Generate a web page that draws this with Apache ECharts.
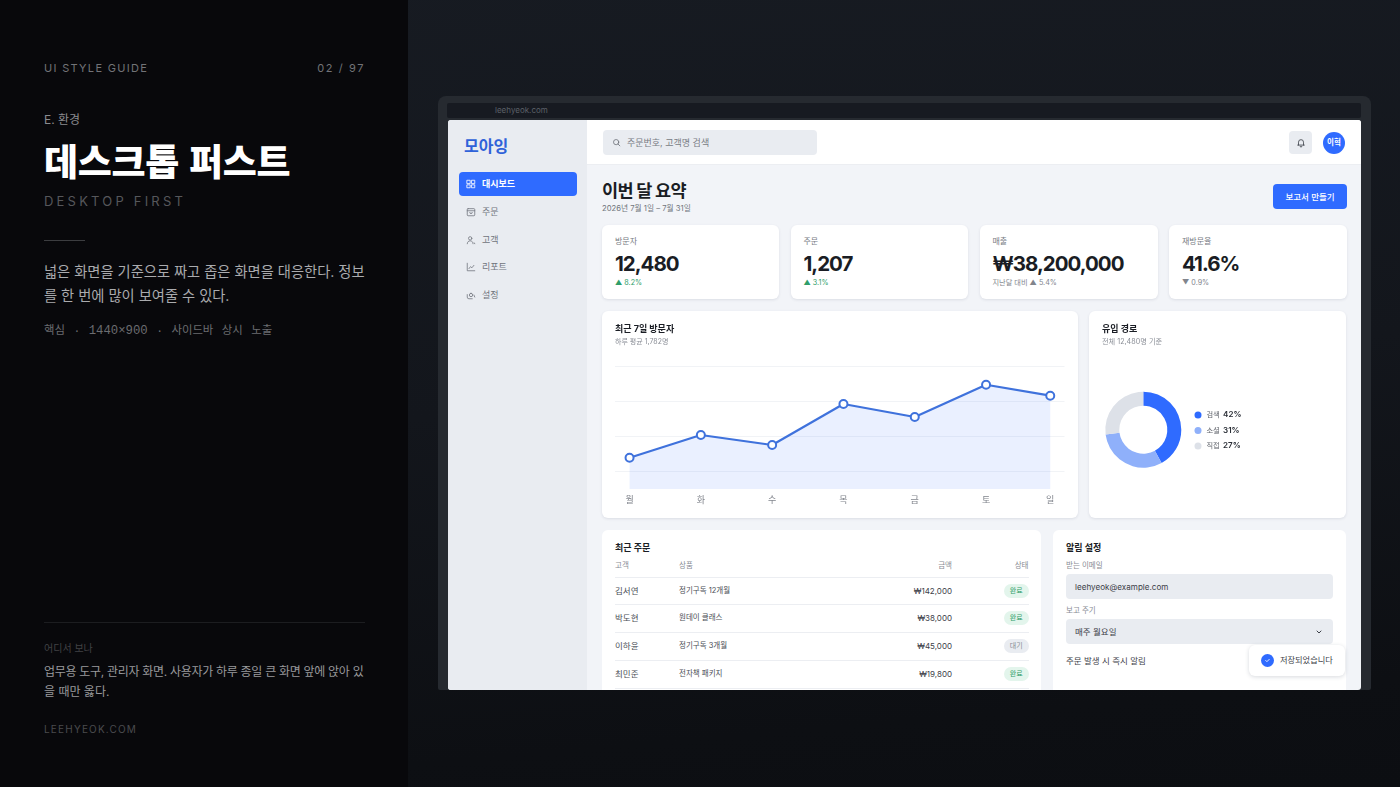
<!DOCTYPE html>
<html lang="ko">
<head>
<meta charset="utf-8">
<title>데스크톱 퍼스트</title>
<script src="https://cdn.jsdelivr.net/npm/echarts@6/dist/echarts.min.js"></script>
<style>
html, body { margin: 0; padding: 0; background: #101218; }
#page { position: relative; width: 1400px; height: 787px; overflow: hidden; filter: blur(0.45px);
  font-family: Inter, "Noto Sans CJK KR", sans-serif;
  background: linear-gradient(175deg, #171b22 0%, #13161c 50%, #0d0f13 88%, #0c0e12 100%); }
#page div { position: absolute; white-space: nowrap; box-sizing: border-box; }
#page svg { position: absolute; fill: none; }
</style>
</head>
<body>
<div id="page"></div>
<script>
// 차트 데이터
var dayLabels = ['월', '화', '수', '목', '금', '토', '일'];
var dayPositions = [0, 1, 2, 3, 4, 5, 5.9];
var visitorValues = [807, 1393, 1135, 2193, 1857, 2690, 2407];
var visitorGridLines = [464, 1367, 2270, 3173];
var channelNames = ['검색', '소셜', '직접'];
var channelValues = [42, 31, 27];
var channelColors = ['#2f6bff', '#8fb0fa', '#dde1e8'];

// 화면 텍스트
var navLabels = ['대시보드', '주문', '고객', '리포트', '설정'];
var kpiLabels = ['방문자', '주문', '매출', '재방문율'];
var kpiValues = ['12,480', '1,207', '₩38,200,000', '41.6%'];
var kpiNotes = ['▲ 8.2%', '▲ 3.1%', '지난달 대비 ▲ 5.4%', '▼ 0.9%'];
var orderNames = ['김서연', '박도현', '이하윤', '최민준'];
var orderItems = ['정기구독 12개월', '원데이 클래스', '정기구독 3개월', '전자책 패키지'];
var orderAmounts = ['₩142,000', '₩38,000', '₩45,000', '₩19,800'];
var orderStates = ['완료', '완료', '대기', '완료'];

var page = document.getElementById('page');

function box(x, y, w, h, bg, radius, extra) {
    var d = document.createElement('div');
    d.style.cssText = 'left:' + x + 'px;top:' + y + 'px;width:' + w + 'px;height:' + h + 'px;background:' + bg +
        ';border-radius:' + (radius || 0) + 'px;' + (extra || '');
    page.appendChild(d);
    return d;
}

// y는 글자 세로 중심
function label(str, x, y, size, color, extra) {
    var d = document.createElement('div');
    d.textContent = str;
    d.style.cssText = 'left:' + x + 'px;top:' + (y - 20) + 'px;height:40px;line-height:40px;font-size:' + size +
        'px;color:' + color + ';' + (extra || '');
    page.appendChild(d);
    return d;
}

function rightLabel(str, right, y, size, color, extra) {
    return label(str, right - 300, y, size, color, 'width:300px;text-align:right;' + (extra || ''));
}

function icon(paths, x, y, size, color, width) {
    var wrap = document.createElement('div');
    wrap.style.cssText = 'left:' + x + 'px;top:' + y + 'px;width:' + size + 'px;height:' + size + 'px;';
    wrap.innerHTML = '<svg width="' + size + '" height="' + size + '" viewBox="0 0 24 24" stroke="' + color +
        '" stroke-width="' + (width || 2) + '" stroke-linecap="round" stroke-linejoin="round">' + paths + '</svg>';
    page.appendChild(wrap);
}

/************* 왼쪽 패널 **************/
box(0, 0, 408, 787, '#08080b');
label('UI STYLE GUIDE', 44, 68, 11, '#727377', 'letter-spacing:1.3px;');
rightLabel('02 / 97', 365, 68, 11, '#727377', 'letter-spacing:1.6px;');
label('E. 환경', 44, 119.5, 12, '#8a8b8f');
label('데스크톱 퍼스트', 44, 160, 37, '#ffffff', 'font-weight:900;letter-spacing:-.3px;font-family:"Noto Sans CJK KR";');
label('DESKTOP FIRST', 44, 201, 13, '#56575b', 'letter-spacing:3.2px;');
box(44, 240, 41, 1, '#3c3d40');
label('넓은 화면을 기준으로 짜고 좁은 화면을 대응한다. 정보', 44, 271.5, 14.25, '#aaabae');
label('를 한 번에 많이 보여줄 수 있다.', 44, 296, 14.25, '#aaabae');
var coreLine = label('', 44, 331, 11.4, '#6b6c70', 'word-spacing:1.6px;font-family:"Liberation Mono","Noto Sans CJK KR";');
coreLine.innerHTML = '핵심 · <span style="font-size:12.3px">1440×900</span> · 사이드바 상시 노출';
box(44, 622, 321, 1, '#1c1d20');
label('어디서 보나', 44, 648, 10, '#414245');
label('업무용 도구, 관리자 화면. 사용자가 하루 종일 큰 화면 앞에 앉아 있', 44, 672, 12, '#99999c', 'letter-spacing:-.3px;');
label('을 때만 옳다.', 44, 691.5, 12, '#99999c');
label('LEEHYEOK.COM', 44, 729, 10, '#4a4b4e', 'letter-spacing:1.2px;');

/************* 노트북 프레임 **************/
box(438, 96, 933, 594, '#262a30', 8, 'border-bottom-left-radius:2px;border-bottom-right-radius:2px;');
box(447, 103, 914, 15, '#171a21', 2);
label('leehyeok.com', 495, 110, 8, '#5c6068');
box(448, 120, 913, 570, '#f2f4f8', 3);

/************* 사이드바 **************/
box(448, 120, 139, 570, '#e9ecf1', 3, 'border-top-right-radius:0;border-bottom-right-radius:0;');
label('모아잉', 464, 145.5, 16, '#2f62d9', 'font-weight:700;');
box(459, 171.5, 117.5, 24.5, '#2f6bff', 4);
var navYs = [184, 212, 239.5, 267, 295];
var navIcons = [
    '<rect x="3" y="3" width="7" height="8"/><rect x="14" y="3" width="7" height="8"/><rect x="3" y="14" width="7" height="7"/><rect x="14" y="14" width="7" height="7"/>',
    '<rect x="3" y="4" width="18" height="17" rx="2"/><path d="M3 9h18M9 13a3 3 0 0 0 6 0"/>',
    '<circle cx="10" cy="8" r="4"/><path d="M3 21c0-4 3-7 7-7s7 3 7 7M20 19l1 2"/>',
    '<path d="M3 3v18h18M7 16l4-5 3 3 5-6"/>',
    '<path d="M3 11v6a4 4 0 0 0 4 4h8M12 8a4 4 0 1 1 0 8 4 4 0 0 1 0-8zM19 12l2 5"/>'
];
for (var i = 0; i < navLabels.length; i++) {
    var on = i === 0;
    icon(navIcons[i], 466, navYs[i] - 5, 10, on ? '#ffffff' : '#767a82');
    label(navLabels[i], 482, navYs[i], 9, on ? '#ffffff' : '#70747c', on ? 'font-weight:600;' : '');
}

/************* 상단 바 **************/
box(587, 120, 774, 45, '#ffffff', 0, 'border-bottom:1px solid #eceef2;border-top-right-radius:3px;');
box(602.5, 130, 214.5, 25, '#e9ecf1', 4);
icon('<circle cx="11" cy="11" r="7"/><path d="M16 16l5 5"/>', 612, 138, 9, '#666a72');
label('주문번호, 고객명 검색', 627, 142.5, 9, '#777b83');
box(1289, 131, 23, 23, '#e9ecf1', 4);
icon('<path d="M6 17V10a6 6 0 0 1 12 0v7M4 17h16M10 20a2 2 0 0 0 4 0"/>', 1295.5, 137.5, 10, '#3f434b');
box(1323, 131.5, 22, 22, '#2f6bff', 11);
label('이혁', 1323, 142.5, 7.5, '#ffffff', 'width:22px;text-align:center;font-weight:700;');

/************* 요약 헤더 **************/
label('이번 달 요약', 602, 190.5, 17.5, '#1a1d24', 'font-weight:700;letter-spacing:-.7px;');
label('2026년 7월 1일 – 7월 31일', 602, 209, 7.7, '#70747c');
box(1273, 184, 74, 25, '#2f6bff', 4);
label('보고서 만들기', 1273, 196.5, 8.5, '#ffffff', 'width:74px;text-align:center;font-weight:500;');

/************* KPI 카드 **************/
var cardShadow = 'box-shadow:0 1px 3px rgba(40,50,70,.11);';
var kpiXs = [602, 790.5, 979.5, 1169];
var kpiWs = [177, 177.5, 178, 177.5];
var kpiNoteColors = ['#2f9e6a', '#2f9e6a', '#81858d', '#81858d'];
for (var k = 0; k < kpiLabels.length; k++) {
    box(kpiXs[k], 225, kpiWs[k], 73.5, '#ffffff', 6, cardShadow);
    label(kpiLabels[k], kpiXs[k] + 13, 241, 8, '#777b83');
    label(kpiValues[k], kpiXs[k] + 13, 263.5, 20.5, '#1a1d24', 'font-weight:700;letter-spacing:-1px;');
    label(kpiNotes[k], kpiXs[k] + 13, 282.5, 7.2, kpiNoteColors[k]);
}

/************* 차트 카드 **************/
box(602, 311, 475.5, 207, '#ffffff', 6, cardShadow);
box(1089, 311, 257, 207, '#ffffff', 6, cardShadow);
var lineDom = box(602, 311, 475.5, 207, 'transparent');
var pieDom = box(1089, 311, 257, 207, 'transparent');

/************* 최근 주문 **************/
box(602, 530, 439, 160, '#ffffff', 6, 'border-bottom-left-radius:0;border-bottom-right-radius:0;');
label('최근 주문', 615, 548, 9, '#1a1d24', 'font-weight:700;');
label('고객', 615, 565.5, 7.5, '#888c94');
label('상품', 679, 565.5, 7.5, '#888c94');
rightLabel('금액', 952, 565.5, 7.5, '#888c94');
rightLabel('상태', 1028.5, 565.5, 7.5, '#888c94');
box(615, 576.5, 414, 1, '#eceef2');
var rowYs = [590.5, 618, 646, 674];
var rowLines = [604, 632, 660, 688];
for (var r = 0; r < orderNames.length; r++) {
    var done = orderStates[r] === '완료';
    label(orderNames[r], 615, rowYs[r], 8.5, '#4a4e56');
    label(orderItems[r], 679, rowYs[r], 7.5, '#4a4e56');
    rightLabel(orderAmounts[r], 952, rowYs[r], 8, '#3c4048');
    box(1004, rowYs[r] - 7, 24.5, 14, done ? '#e3f5ec' : '#e9ecf1', 7);
    label(orderStates[r], 1004, rowYs[r], 7, done ? '#2f9e6a' : '#888c94', 'width:24.5px;text-align:center;');
    box(615, rowLines[r], 414, 1, '#eceef2');
}

/************* 알림 설정 **************/
box(1053, 530, 293, 160, '#ffffff', 6, 'border-bottom-left-radius:0;border-bottom-right-radius:0;');
label('알림 설정', 1066, 548, 9, '#1a1d24', 'font-weight:700;');
label('받는 이메일', 1066, 565.5, 7.5, '#888c94');
box(1066, 574, 267, 25, '#e9ecf1', 4);
label('leehyeok@example.com', 1075, 586.5, 8.1, '#3c4048');
label('보고 주기', 1066, 611, 7.5, '#888c94');
box(1066, 619, 267, 25, '#e9ecf1', 4);
label('매주 월요일', 1075, 631.5, 8.5, '#3c4048');
icon('<path d="M6 9l6 6 6-6"/>', 1315, 627.5, 8, '#3c4048', 3);
label('주문 발생 시 즉시 알림', 1066, 660.5, 8.5, '#3c4048');

/************* 토스트 **************/
box(1249, 645, 95.5, 31, '#ffffff', 6, 'box-shadow:0 1px 4px rgba(40,50,70,.18);');
box(1260.5, 653.5, 13, 13, '#2f6bff', 7);
icon('<path d="M6 12l4 4 8-8"/>', 1263.5, 656.5, 7, '#ffffff', 3);
label('저장되었습니다', 1280, 660, 8.2, '#3c4048');

/************* 방문자 라인 차트 **************/
var lineChart = echarts.init(lineDom);
var lineData = [];
for (var p = 0; p < visitorValues.length; p++) {
    lineData.push([dayPositions[p], visitorValues[p]]);
}
lineChart.setOption({
    animation: false,
    textStyle: { fontFamily: 'Inter, "Noto Sans CJK KR", sans-serif' },
    title: {
        text: '최근 7일 방문자',
        subtext: '하루 평균 1,782명',
        left: 13,
        top: 12,
        itemGap: 2,
        padding: 0,
        textStyle: { fontSize: 9, fontWeight: 700, color: '#1a1d24', lineHeight: 12 },
        subtextStyle: { fontSize: 7, color: '#8a8e96', lineHeight: 10 }
    },
    grid: { left: 13, right: 13.5, top: 55, bottom: 29 },
    xAxis: {
        type: 'value',
        min: -0.204,
        max: 6.1,
        axisLine: { show: false },
        axisTick: { show: false, customValues: dayPositions },
        splitLine: { show: false },
        axisLabel: {
            customValues: dayPositions,
            margin: 7,
            fontSize: 9,
            color: '#80848c',
            formatter: function (v) { return dayLabels[dayPositions.indexOf(v)]; }
        }
    },
    yAxis: {
        type: 'value',
        min: 0,
        max: 3173,
        axisLine: { show: false },
        axisLabel: { show: false },
        axisTick: { show: false, customValues: visitorGridLines },
        splitLine: { lineStyle: { color: '#f1f3f6', width: 1 } }
    },
    series: [{
        type: 'line',
        data: lineData,
        symbol: 'circle',
        symbolSize: 8,
        itemStyle: { color: '#ffffff', borderColor: '#3f72dc', borderWidth: 2 },
        lineStyle: { color: '#3f72dc', width: 2.2 },
        areaStyle: { color: '#2f6bff', opacity: 0.1 }
    }]
});

/************* 유입 경로 도넛 차트 **************/
var pieChart = echarts.init(pieDom);
var pieData = [];
for (var c = 0; c < channelNames.length; c++) {
    pieData.push({ name: channelNames[c], value: channelValues[c], itemStyle: { color: channelColors[c] } });
}
pieChart.setOption({
    animation: false,
    textStyle: { fontFamily: 'Inter, "Noto Sans CJK KR", sans-serif' },
    title: {
        text: '유입 경로',
        subtext: '전체 12,480명 기준',
        left: 13,
        top: 12,
        itemGap: 2,
        padding: 0,
        textStyle: { fontSize: 9, fontWeight: 700, color: '#1a1d24', lineHeight: 12 },
        subtextStyle: { fontSize: 7.2, color: '#8a8e96', lineHeight: 10 }
    },
    legend: {
        orient: 'vertical',
        left: 105.5,
        top: 98,
        padding: 0,
        itemGap: 3.5,
        itemWidth: 7,
        itemHeight: 7,
        icon: 'circle',
        selectedMode: false,
        formatter: function (name) {
            return '{n|' + name + '} {v|' + channelValues[channelNames.indexOf(name)] + '%}';
        },
        textStyle: {
            lineHeight: 10,
            rich: {
                n: { fontSize: 7.2, color: '#5a5e66', lineHeight: 10 },
                v: { fontSize: 8, fontWeight: 600, color: '#2a2e36', lineHeight: 10 }
            }
        }
    },
    series: [{
        type: 'pie',
        center: [54.3, 118.7],
        radius: [24, 38],
        startAngle: 90,
        label: { show: false },
        labelLine: { show: false },
        silent: true,
        data: pieData
    }]
});
</script>
</body>
</html>
